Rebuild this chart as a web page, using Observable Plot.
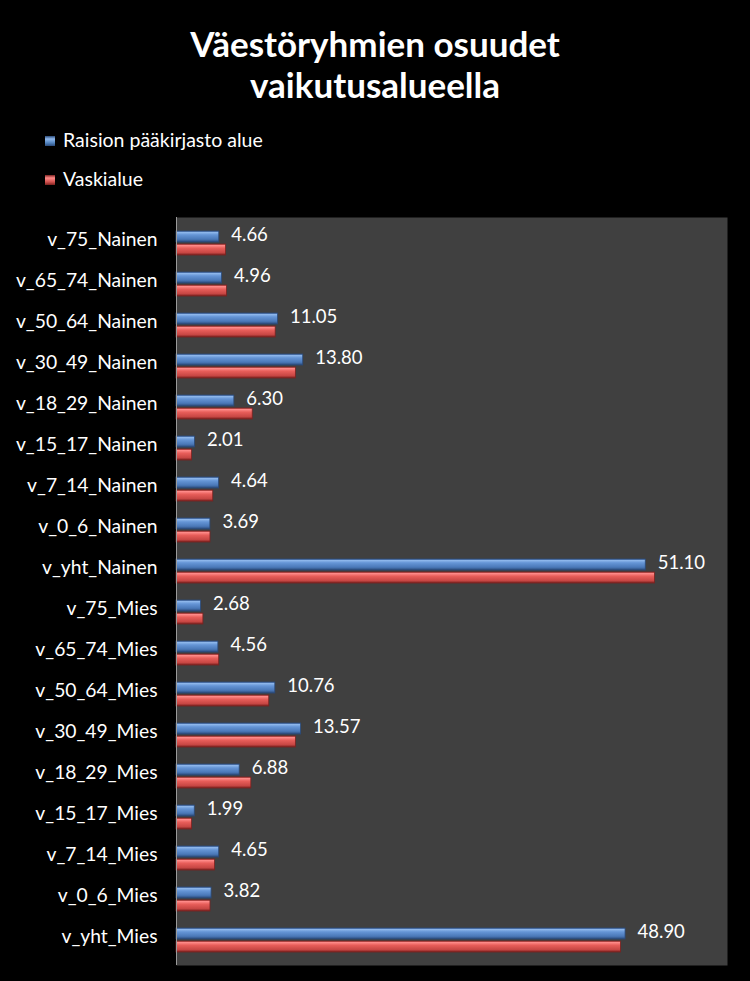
<!DOCTYPE html>
<html>
<head>
<meta charset="utf-8">
<script src="https://cdn.jsdelivr.net/npm/d3@7"></script>
<script src="https://cdn.jsdelivr.net/npm/@observablehq/plot@0.6"></script>
<style>
  html, body { margin: 0; padding: 0; background: #000; }
  #wrap { position: relative; width: 750px; height: 981px; background: #000; overflow: hidden; font-family: Lato, "Open Sans", sans-serif; color: #fff; }
  #title { position: absolute; top: 23px; left: 0; width: 750px; text-align: center; font-weight: 700; font-size: 35px; line-height: 41px; }
  .leg { position: absolute; left: 45px; font-size: 19.5px; line-height: 22px; }
  .leg span.sw { display: inline-block; width: 10px; height: 10px; margin-right: 8px; vertical-align: 1px; }
  #chart { position: absolute; top: 200px; left: 0; }
</style>
</head>
<body>
<div id="wrap">
  <div id="title">Väestöryhmien osuudet<br>vaikutusalueella</div>
  <div class="leg" style="top:129px"><span class="sw" style="background:linear-gradient(#2b4a78,#8fb8ec 30%,#4f81bd 70%,#2b4a78)"></span>Raision pääkirjasto alue</div>
  <div class="leg" style="top:168px"><span class="sw" style="background:linear-gradient(#7a2220,#ff8a88 30%,#d0504d 70%,#7a2220)"></span>Vaskialue</div>
  <div id="chart"></div>
</div>
<script>
const categories = [
  "v_75_Nainen", "v_65_74_Nainen", "v_50_64_Nainen", "v_30_49_Nainen", "v_18_29_Nainen",
  "v_15_17_Nainen", "v_7_14_Nainen", "v_0_6_Nainen", "v_yht_Nainen",
  "v_75_Mies", "v_65_74_Mies", "v_50_64_Mies", "v_30_49_Mies", "v_18_29_Mies",
  "v_15_17_Mies", "v_7_14_Mies", "v_0_6_Mies", "v_yht_Mies"
];
const raisio = [4.66, 4.96, 11.05, 13.80, 6.30, 2.01, 4.64, 3.69, 51.10, 2.68, 4.56, 10.76, 13.57, 6.88, 1.99, 4.65, 3.82, 48.90];
const vaski  = [5.40, 5.50, 10.80, 13.00, 8.30, 1.70, 4.00, 3.70, 52.10, 2.93, 4.65, 10.10, 13.00, 8.15, 1.70, 4.20, 3.70, 48.40];
const seriesNames = ["Raision pääkirjasto alue", "Vaskialue"];

const rowsR = categories.map((c, i) => ({cat: c, value: raisio[i], series: seriesNames[0]}));
const rowsV = categories.map((c, i) => ({cat: c, value: vaski[i], series: seriesNames[1]}));

const chart = Plot.plot({
  width: 750,
  height: 781,
  marginLeft: 176,
  marginRight: 23,
  marginTop: 17,
  marginBottom: 16,
  style: {background: "transparent", color: "#fff", fontFamily: "Lato, 'Open Sans', sans-serif", fontSize: "19px"},
  x: {domain: [0, 60], axis: null},
  y: {type: "band", domain: categories, padding: 0, label: null},
  marks: [
    Plot.frame({fill: "#404040", stroke: null}),
    Plot.axisY({tickSize: 0, tickPadding: 19, fontSize: 19.3, dy: -3, label: null}),
    Plot.barX(rowsR, {x: "value", y: "cat", fill: "url(#gBlue)", stroke: "#2b4a78", strokeWidth: 0.8, insetTop: 9, insetBottom: 21}),
    Plot.barX(rowsV, {x: "value", y: "cat", fill: "url(#gRed)", stroke: "#7a2220", strokeWidth: 0.8, insetTop: 22, insetBottom: 8}),
    Plot.ruleX([0], {stroke: "#9a9a9a", strokeWidth: 1}),
    Plot.text(rowsR, {x: "value", y: "cat", text: d => d.value.toFixed(2), textAnchor: "start", dx: 12, dy: -8, fill: "#fff", fontSize: 18.5})
  ]
});

const svg = d3.select(chart);
const defs = svg.insert("defs", ":first-child");
function grad(id, stops) {
  const g = defs.append("linearGradient").attr("id", id).attr("x1", 0).attr("y1", 0).attr("x2", 0).attr("y2", 1);
  stops.forEach(([o, c]) => g.append("stop").attr("offset", o).attr("stop-color", c));
}
grad("gBlue", [["0%", "#3a62a0"], ["12%", "#8fb8ec"], ["35%", "#6595d6"], ["75%", "#4a78b8"], ["100%", "#2b4a78"]]);
grad("gRed", [["0%", "#b03a38"], ["12%", "#ff8c8a"], ["38%", "#e85e5a"], ["78%", "#c84744"], ["100%", "#7a2220"]]);

document.getElementById("chart").appendChild(chart);
</script>
</body>
</html>
